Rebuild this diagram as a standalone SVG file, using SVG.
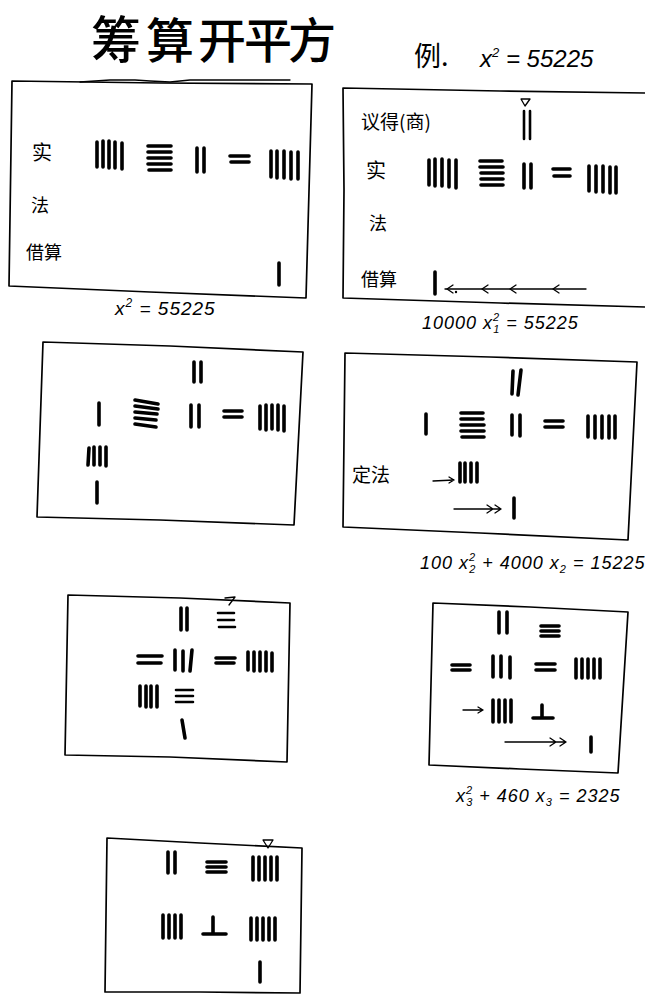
<svg xmlns="http://www.w3.org/2000/svg" width="645" height="998" viewBox="0 0 645 998">
<style>
.box{fill:none;stroke:#000;stroke-width:1.7;stroke-linejoin:round}
.rod{fill:none;stroke:#000;stroke-width:3.6;stroke-linecap:round}
.rt{fill:none;stroke:#000;stroke-width:2.6;stroke-linecap:round}
.thin{fill:none;stroke:#000;stroke-width:1.3;stroke-linecap:round;stroke-linejoin:round}
.cn{font-family:"Noto Sans CJK SC","Noto Sans CJK JP",sans-serif;fill:#000}
.hw{font-family:"Liberation Sans",Arial,sans-serif;font-style:italic;fill:#000}
</style>
<rect width="645" height="998" fill="#fff"/>
<g id="title">
<text class="cn" font-size="50" text-anchor="middle" x="116" y="58" font-weight="500">筹</text>
<text class="cn" font-size="48" text-anchor="middle" x="170" y="58" font-weight="500">算</text>
<text class="cn" font-size="48" text-anchor="middle" x="222" y="58" font-weight="500">开</text>
<text class="cn" font-size="48" text-anchor="middle" x="268" y="58" font-weight="500">平</text>
<text class="cn" font-size="48" text-anchor="middle" x="312" y="58" font-weight="500">方</text>
<path class="thin" d="M80,82 L110,80 L135,80 L150,81 L170,82 L190,80 L230,80 L290,80"/>
<text class="cn" font-size="27" x="414" y="66">例.</text>
<text class="hw" font-size="24" x="480" y="67">x<tspan font-size="13" dy="-10">2</tspan><tspan dy="10"> = 55225</tspan></text>
</g>
<g id="panel1">
<path class="box" d="M12,81 L160,83 L312,84 L306,298 L150,292 L9,286 Z"/>
<text class="cn" font-size="20" x="32" y="160">实</text>
<text class="cn" font-size="18" x="31" y="212">法</text>
<text class="cn" font-size="18" x="26" y="259">借算</text>
<path class="rod" d="M97,142V167M103,141V167M109,141V168M115,142V168M122,143V169"/>
<path class="rod" d="M148,146H171M148,152H171M148,158H171M148,164H171M149,170H171"/>
<path class="rod" d="M197,148V172M204,148V172"/>
<path class="rod" d="M230,156H249M231,162H249"/>
<path class="rod" d="M271,151V177M277,151V178M284,151V178M291,152V179M298,152V179"/>
<path class="rod" d="M279,263V285"/>
<text class="hw" font-size="19" letter-spacing="1" x="115" y="315">x<tspan font-size="12" dy="-8">2</tspan><tspan dy="8"> = 55225</tspan></text>
</g>
<g id="panel2">
<path class="box" d="M645,93 L500,91 L343,88 L344,190 L343,298 L500,303 L645,307"/>
<text class="cn" font-size="19" x="361" y="129">议得(商)</text>
<text class="cn" font-size="20" x="366" y="178">实</text>
<text class="cn" font-size="18" x="369" y="230">法</text>
<text class="cn" font-size="18" x="361" y="286">借算</text>
<path class="thin" d="M521,99 L530,99 L525,106 Z"/>
<path class="rt" d="M524,111V139M530,111V139"/>
<path class="rod" d="M429,160V185M435,159V186M442,159V186M449,160V187M456,160V188"/>
<path class="rod" d="M480,161H502M480,167H503M481,173H503M481,179H503M481,185H503"/>
<path class="rod" d="M524,164V188M531,164V188"/>
<path class="rod" d="M553,169H570M554,176H570"/>
<path class="rod" d="M589,166V191M596,166V192M603,166V192M610,167V193M616,167V193"/>
<path class="rod" d="M435,272V294"/>
<text class="hw" font-size="18" letter-spacing="1" x="422" y="329">10000 x<tspan font-size="11" dy="-8">2</tspan><tspan font-size="11" dx="-7" dy="12">1</tspan><tspan dy="-4"> = 55225</tspan></text>
</g>
<g id="panel3">
<path class="box" d="M43,342 L170,346 L303,352 L294,525 L160,520 L37,517 Z"/>
<path class="rod" d="M194,362V382M201,362V382"/>
<path class="rod" d="M99,403V425"/>
<path class="rod" d="M135,400L158,404M135,406L158,409M135,412L157,414M135,418L156,420M135,424L156,427"/>
<path class="rod" d="M191,405V427M199,405V427"/>
<path class="rod" d="M224,411H242M224,417H242"/>
<path class="rod" d="M260,406V429M266,405V430M272,405V429M278,405V430M284,406V431"/>
<path class="rod" d="M89,448L88,465M94,447V465M100,447V465M106,447V466"/>
<path class="rod" d="M97,482V503"/>
</g>
<g id="panel4">
<path class="box" d="M345,353 L490,357 L637,362 L628,540 L480,533 L343,527 Z"/>
<path class="rod" d="M513,371L512,394M521,370L518,395"/>
<path class="rod" d="M426,414V434"/>
<path class="rod" d="M461,413H483M461,419H483M461,425H484M461,431H484M462,437H484"/>
<path class="rod" d="M512,415V435M520,415V436"/>
<path class="rod" d="M545,421H563M545,427H563"/>
<path class="rod" d="M588,416V437M595,416V438M602,416V438M609,416V438M615,416V438"/>
<text class="cn" font-size="19" x="352" y="482">定法</text>
<path class="rod" d="M460,463V482M465,463V482M471,463V482M477,463V482"/>
<path class="rod" d="M514,498V518"/>
<text class="hw" font-size="18" letter-spacing="1" x="420" y="569">100 x<tspan font-size="11" dy="-8">2</tspan><tspan font-size="11" dx="-7" dy="12">2</tspan><tspan dy="-4"> + 4000 x</tspan><tspan font-size="11" dy="4">2</tspan><tspan dy="-4"> = 15225</tspan></text>
</g>
<g id="panel5">
<path class="box" d="M68,595 L180,598 L290,603 L287,762 L170,757 L65,755 Z"/>
<path class="rod" d="M181,608V630M187,608V630"/>
<path class="thin" d="M225,598 L235,597 L229,605"/>
<path class="rt" d="M218,613H234M218,620H234M219,627H235"/>
<path class="rod" d="M138,656H162M138,663H161"/>
<path class="rod" d="M175,650V670M183,651V671M192,650L190,671"/>
<path class="rod" d="M216,658H235M216,663H234"/>
<path class="rod" d="M248,652V670M254,652V671M260,652V671M266,652V671M272,653V671"/>
<path class="rod" d="M140,686V706M146,686V707M151,686V707M157,686V707"/>
<path class="rt" d="M176,690H193M176,696H193M176,702H193"/>
<path class="rod" d="M182,720L185,738"/>
</g>
<g id="panel6">
<path class="box" d="M433,603 L530,607 L628,612 L618,773 L520,769 L429,765 Z"/>
<path class="rod" d="M499,612V633M507,612V633"/>
<path class="rod" d="M541,626H559M541,631H559M541,636H559"/>
<path class="rod" d="M452,665H470M452,670H470"/>
<path class="rod" d="M493,656V677M501,656V677M510,657V678"/>
<path class="rod" d="M536,664H555M536,670H555"/>
<path class="rod" d="M576,659V678M582,659V678M588,659V678M594,659V678M600,659V678"/>
<path class="rod" d="M493,700V722M499,700V722M505,700V722M511,700V722"/>
<path class="rod" d="M542,705V718M533,718H553"/>
<path class="rod" d="M591,737V752"/>
<text class="hw" font-size="18" letter-spacing="1" x="456" y="802">x<tspan font-size="11" dy="-8">2</tspan><tspan font-size="11" dx="-7" dy="12">3</tspan><tspan dy="-4"> + 460 x</tspan><tspan font-size="11" dy="4">3</tspan><tspan dy="-4"> = 2325</tspan></text>
</g>
<g id="panel7">
<path class="box" d="M107,838 L200,843 L302,848 L300,993 L200,992 L105,992 Z"/>
<path class="rod" d="M168,852V873M175,852V873"/>
<path class="rod" d="M207,862H226M207,867H226M207,872H226"/>
<path class="thin" d="M263,840 L273,840 L268,848 Z"/>
<path class="rod" d="M253,857V880M259,857V880M265,857V880M271,857V880M277,857V880"/>
<path class="rod" d="M163,915V938M169,915V938M175,915V938M181,915V938"/>
<path class="rod" d="M213,917V933M203,934H226"/>
<path class="rod" d="M251,918V940M257,918V940M263,918V940M269,918V940M275,918V940"/>
<path class="rod" d="M260,962V982"/>
</g>
<g id="connectors">
<path class="thin" d="M445,289 L586,289"/>
<path class="thin" d="M453,285 L447,289 L453,293 M488,285 L482,289 L488,293 M516,285 L510,289 L516,293 M559,285 L553,289 L559,293"/>
<circle cx="456" cy="292" r="1.2"/>
<path class="thin" d="M433,481 L454,480 M449,477 L454,480 L449,483"/>
<path class="thin" d="M454,509 L501,509 M487,505 L493,509 L487,513 M495,505 L501,509 L495,513"/>
<path class="thin" d="M463,710 L483,710 M478,707 L483,710 L478,713"/>
<path class="thin" d="M505,742 L566,742 M550,738 L556,742 L550,746 M560,738 L566,742 L560,746"/>
</g>
</svg>
